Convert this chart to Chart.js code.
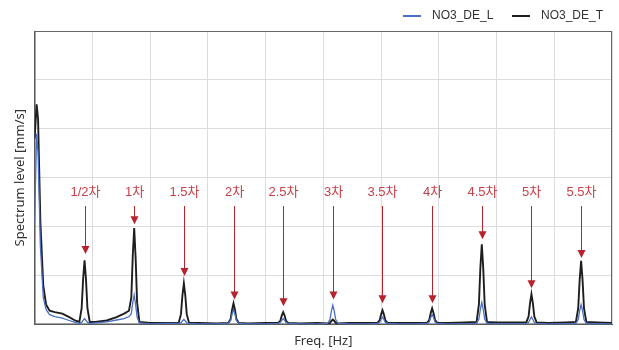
<!DOCTYPE html>
<html>
<head>
<meta charset="utf-8">
<script src="https://cdn.jsdelivr.net/npm/chart.js@4"></script>
<style>
  html, body { margin: 0; padding: 0; background: #fff; }
  #wrap { width: 619px; height: 350px; }
</style>
</head>
<body>
<div id="wrap"><canvas id="spectrum"></canvas></div>
<script>
/* ---- data (x in grid units, no tick labels shown) ---- */
const freq = [
  0, 0.035, 0.06, 0.10, 0.15, 0.20, 0.26, 0.35, 0.48, 0.60, 0.70,
  0.775, 0.815, 0.84, 0.865, 0.89, 0.915, 0.955,
  1.05, 1.25, 1.42, 1.55,
  1.635, 1.675, 1.70, 1.725, 1.75, 1.775, 1.815,
  2.0, 2.3,
  2.495, 2.535, 2.56, 2.585, 2.61, 2.635, 2.675,
  2.85, 3.15,
  3.355, 3.395, 3.42, 3.445, 3.47, 3.495, 3.535,
  3.7, 4.0,
  4.215, 4.255, 4.28, 4.305, 4.33, 4.355, 4.395,
  4.6, 4.9,
  5.075, 5.115, 5.14, 5.165, 5.19, 5.215, 5.255,
  5.45, 5.75,
  5.935, 5.975, 6.00, 6.025, 6.05, 6.075, 6.115,
  6.3, 6.6,
  6.795, 6.835, 6.86, 6.885, 6.91, 6.935, 6.975,
  7.15, 7.45,
  7.655, 7.695, 7.72, 7.745, 7.77, 7.795, 7.835,
  8.0, 8.3,
  8.515, 8.555, 8.58, 8.605, 8.63, 8.655, 8.695,
  8.9, 9.2,
  9.375, 9.415, 9.44, 9.465, 9.49, 9.515, 9.555,
  9.75, 10.0
];

const levelT = [
  3.8, 4.5, 4.2, 2.1, 0.8, 0.4, 0.28, 0.25, 0.22, 0.15, 0.08,
  0.05, 0.33, 0.92, 1.31, 0.92, 0.33, 0.05,
  0.05, 0.08, 0.15, 0.22,
  0.28, 0.55, 1.4, 1.97, 1.35, 0.45, 0.05,
  0.03, 0.03,
  0.03, 0.21, 0.59, 0.84, 0.59, 0.21, 0.03,
  0.03, 0.02,
  0.03, 0.11, 0.3, 0.43, 0.3, 0.11, 0.03,
  0.02, 0.03,
  0.03, 0.07, 0.18, 0.25, 0.18, 0.07, 0.03,
  0.02, 0.03,
  0.02, 0.03, 0.07, 0.1, 0.07, 0.03, 0.02,
  0.03, 0.03,
  0.03, 0.08, 0.2, 0.29, 0.2, 0.08, 0.03,
  0.03, 0.03,
  0.03, 0.09, 0.23, 0.33, 0.23, 0.09, 0.03,
  0.03, 0.04,
  0.05, 0.41, 1.15, 1.64, 1.15, 0.41, 0.05,
  0.04, 0.04,
  0.04, 0.16, 0.43, 0.62, 0.43, 0.16, 0.04,
  0.03, 0.04,
  0.05, 0.33, 0.91, 1.3, 0.91, 0.33, 0.05,
  0.04, 0.03
];

const levelL = [
  2.1, 3.9, 3.5, 1.6, 0.55, 0.3, 0.2, 0.16, 0.13, 0.08, 0.04,
  0.02, 0.04, 0.08, 0.12, 0.08, 0.04, 0.02,
  0.03, 0.05, 0.09, 0.12,
  0.16, 0.22, 0.45, 0.6, 0.4, 0.15, 0.03,
  0.01, 0.02,
  0.02, 0.03, 0.07, 0.1, 0.07, 0.03, 0.02,
  0.01, 0.01,
  0.02, 0.08, 0.21, 0.3, 0.21, 0.08, 0.02,
  0.01, 0.01,
  0.02, 0.04, 0.08, 0.12, 0.08, 0.04, 0.02,
  0.01, 0.01,
  0.02, 0.1, 0.27, 0.39, 0.27, 0.1, 0.02,
  0.01, 0.01,
  0.02, 0.04, 0.1, 0.15, 0.1, 0.04, 0.02,
  0.01, 0.01,
  0.02, 0.05, 0.14, 0.2, 0.14, 0.05, 0.02,
  0.01, 0.01,
  0.02, 0.11, 0.31, 0.45, 0.31, 0.11, 0.02,
  0.01, 0.01,
  0.02, 0.04, 0.1, 0.15, 0.1, 0.04, 0.02,
  0.01, 0.01,
  0.02, 0.1, 0.28, 0.4, 0.28, 0.1, 0.02,
  0.01, 0.01
];

// order annotations
const orderLabels = ['1/2차', '1차', '1.5차', '2차', '2.5차', '3차', '3.5차', '4차', '4.5차', '5차', '5.5차'];
const orderFreq   = [0.865, 1.725, 2.585, 3.445, 4.305, 5.165, 6.025, 6.885, 7.745, 8.605, 9.465];
const arrowTip    = [1.44, 2.05, 0.99, 0.51, 0.37, 0.51, 0.43, 0.43, 1.74, 0.74, 1.36];

const FONT = "'Liberation Sans', 'Noto Sans CJK KR', sans-serif";
const TITLE_FONT = "'Noto Sans', 'Noto Sans CJK KR', sans-serif";
const RED_TEXT = '#c8424a';
const RED_ARROW = '#b8222c';

const toPts = vals => freq.map((f, i) => ({ x: f, y: vals[i] }));

/* ---- plugin: frame, legend and order arrows ---- */
const orderArrows = {
  id: 'orderArrows',
  beforeDatasetsDraw(chart) {
    const { ctx, chartArea: a } = chart;
    ctx.save();
    ctx.strokeStyle = '#666';
    ctx.lineWidth = 1;
    ctx.strokeRect(a.left + 0.5, a.top + 0.5, a.right - a.left - 1, a.bottom - a.top - 1);
    ctx.restore();
  },
  afterDatasetsDraw(chart, args, opts) {
    const ctx = chart.ctx;
    const xs = chart.scales.x, ys = chart.scales.y;
    ctx.save();
    orderLabels.forEach((txt, i) => {
      const x = Math.round(xs.getPixelForValue(orderFreq[i])) + 0.5;
      const yLabel = ys.getPixelForValue(opts.labelLevel);
      const yStart = ys.getPixelForValue(opts.arrowStart);
      const yTip = ys.getPixelForValue(arrowTip[i]);

      ctx.fillStyle = RED_TEXT;
      ctx.font = `13px ${FONT}`;
      ctx.textAlign = 'center';
      ctx.textBaseline = 'middle';
      ctx.fillText(txt, x, yLabel);

      ctx.strokeStyle = RED_ARROW;
      ctx.lineWidth = 1;
      ctx.beginPath();
      ctx.moveTo(x, yStart);
      ctx.lineTo(x, yTip - 6);
      ctx.stroke();

      ctx.fillStyle = RED_ARROW;
      ctx.beginPath();
      ctx.moveTo(x - 4, yTip - 8);
      ctx.lineTo(x + 4, yTip - 8);
      ctx.lineTo(x, yTip);
      ctx.closePath();
      ctx.fill();
    });

    // legend (top right)
    ctx.font = `12px ${FONT}`;
    ctx.textAlign = 'left';
    ctx.textBaseline = 'middle';
    chart.data.datasets.forEach((ds, i) => {
      const x0 = opts.legendX[i];
      ctx.strokeStyle = ds.borderColor;
      ctx.lineWidth = 2;
      ctx.beginPath();
      ctx.moveTo(x0, opts.legendY);
      ctx.lineTo(x0 + 18, opts.legendY);
      ctx.stroke();
      ctx.fillStyle = '#333';
      ctx.fillText(ds.label, x0 + 29, opts.legendY);
    });
    ctx.restore();
  }
};

new Chart(document.getElementById('spectrum'), {
  type: 'line',
  data: {
    datasets: [
      {
        label: 'NO3_DE_L',
        data: toPts(levelL),
        borderColor: '#4a6fc4',
        borderWidth: 1.3,
        pointRadius: 0,
        tension: 0,
        order: 0,
      },
      {
        label: 'NO3_DE_T',
        data: toPts(levelT),
        borderColor: '#1e1e1e',
        borderWidth: 1.9,
        pointRadius: 0,
        tension: 0,
        order: 1,
      },
    ],
  },
  options: {
    responsive: true,
    maintainAspectRatio: false,
    animation: false,
    layout: { padding: { left: 12, right: 7, top: 31, bottom: 1 } },
    plugins: {
      legend: { display: false },
      tooltip: { enabled: false },
      orderArrows: { labelLevel: 2.69, arrowStart: 2.42, legendX: [403, 512], legendY: 16 },
    },
    scales: {
      x: {
        type: 'linear',
        min: 0,
        max: 10,
        ticks: { display: false, stepSize: 1 },
        grid: { color: '#dcdcdc', drawTicks: false },
        border: { color: '#555' },
        title: { display: true, text: 'Freq. [Hz]', color: '#333', font: { family: TITLE_FONT, size: 13 }, padding: { top: 9, bottom: 0 } },
      },
      y: {
        min: 0,
        max: 6,
        ticks: { display: false, stepSize: 1 },
        grid: { color: '#dcdcdc', drawTicks: false },
        border: { color: '#555' },
        title: { display: true, text: 'Spectrum level [mm/s]', color: '#333', font: { family: TITLE_FONT, size: 13 }, padding: { top: 0, bottom: 7 } },
      },
    },
  },
  plugins: [orderArrows],
});
</script>
</body>
</html>
